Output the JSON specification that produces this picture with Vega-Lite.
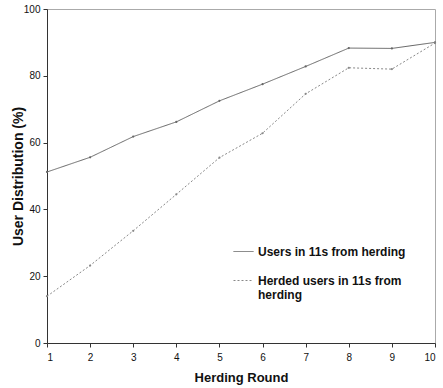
{
  "$schema": "https://vega.github.io/schema/vega-lite/v6.json",
  "width": 388,
  "height": 334,
  "autosize": {"type": "none"},
  "padding": {"left": 47, "top": 9, "right": 8, "bottom": 45},
  "background": "white",
  "config": {
    "font": "Liberation Sans",
    "view": {"stroke": "#aaaaaa", "strokeWidth": 1},
    "axis": {"grid": false, "domainColor": "#333333", "tickColor": "#333333", "labelColor": "#111111", "labelFontSize": 10, "titleFontSize": 13, "titleFontWeight": "bold", "titleColor": "#111111", "tickSize": 4}
  },
  "data": {
    "values": [
      {"round": 1, "series": "Users in 11s from herding", "value": 51.2},
      {"round": 2, "series": "Users in 11s from herding", "value": 55.6},
      {"round": 3, "series": "Users in 11s from herding", "value": 61.8},
      {"round": 4, "series": "Users in 11s from herding", "value": 66.2},
      {"round": 5, "series": "Users in 11s from herding", "value": 72.5},
      {"round": 6, "series": "Users in 11s from herding", "value": 77.5},
      {"round": 7, "series": "Users in 11s from herding", "value": 82.8},
      {"round": 8, "series": "Users in 11s from herding", "value": 88.3},
      {"round": 9, "series": "Users in 11s from herding", "value": 88.2},
      {"round": 10, "series": "Users in 11s from herding", "value": 90.0},
      {"round": 1, "series": "Herded users in 11s from herding", "value": 14.0},
      {"round": 2, "series": "Herded users in 11s from herding", "value": 23.2},
      {"round": 3, "series": "Herded users in 11s from herding", "value": 33.6},
      {"round": 4, "series": "Herded users in 11s from herding", "value": 44.5},
      {"round": 5, "series": "Herded users in 11s from herding", "value": 55.5},
      {"round": 6, "series": "Herded users in 11s from herding", "value": 62.8},
      {"round": 7, "series": "Herded users in 11s from herding", "value": 74.6},
      {"round": 8, "series": "Herded users in 11s from herding", "value": 82.4},
      {"round": 9, "series": "Herded users in 11s from herding", "value": 82.0},
      {"round": 10, "series": "Herded users in 11s from herding", "value": 89.8}
    ]
  },
  "mark": {"type": "line", "strokeWidth": 1, "point": {"size": 5, "filled": true}},
  "encoding": {
    "x": {"field": "round", "type": "quantitative", "scale": {"domain": [1, 10], "nice": false}, "axis": {"values": [1,2,3,4,5,6,7,8,9,10], "title": "Herding Round", "titlePadding": 9, "labelPadding": 5}},
    "y": {"field": "value", "type": "quantitative", "scale": {"domain": [0, 100], "nice": false}, "axis": {"values": [0,20,40,60,80,100], "title": "User Distribution (%)", "titleFontSize": 14, "titlePadding": -2, "labelPadding": 3}},
    "color": {"field": "series", "type": "nominal", "sort": ["Users in 11s from herding", "Herded users in 11s from herding"], "scale": {"range": ["#666666", "#888888"]}, "legend": null},
    "strokeDash": {"field": "series", "type": "nominal", "sort": ["Users in 11s from herding", "Herded users in 11s from herding"], "scale": {"range": [[1, 0], [2, 2]]},
      "legend": {"title": null, "orient": "none", "legendX": 186, "legendY": 232, "symbolType": "stroke", "symbolSize": 400, "symbolStrokeWidth": 1, "labelFontSize": 12, "labelFontWeight": "bold", "labelColor": "#111111", "rowPadding": 12, "labelLimit": 300,
        "labelExpr": "datum.label == 'Herded users in 11s from herding' ? ['Herded users in 11s from', 'herding'] : datum.label",
        "encode": {"symbols": {"update": {"stroke": {"scale": "color", "field": "value"}, "strokeDash": {"scale": "strokeDash", "field": "value"}, "fill": {"value": "transparent"}, "opacity": {"value": 1}, "strokeWidth": {"value": 1}}}}}}
  }
}
